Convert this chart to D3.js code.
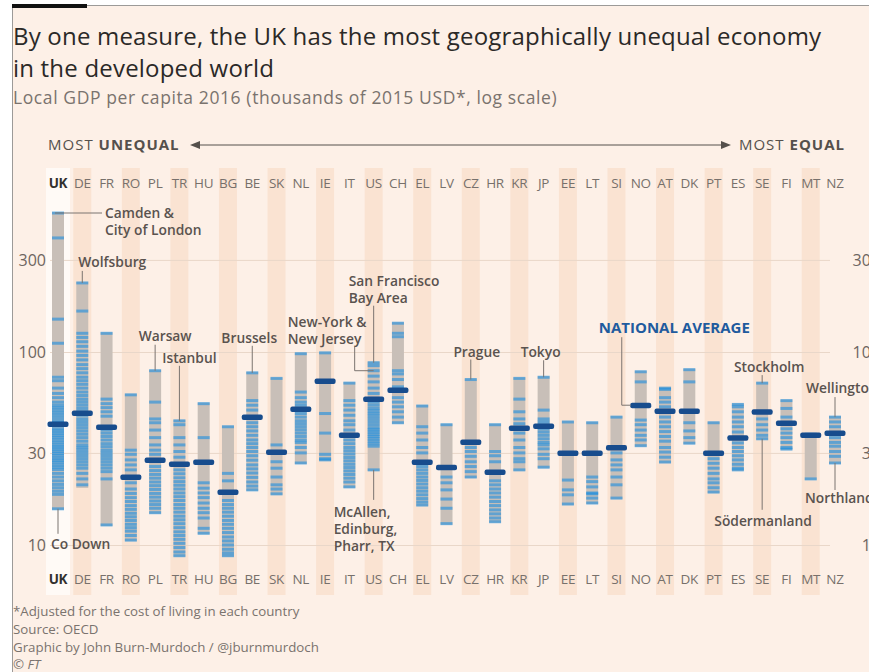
<!DOCTYPE html>
<html>
<head>
<meta charset="utf-8">
<script src="https://cdn.jsdelivr.net/npm/d3@7"></script>
<style>
  body { margin: 0; background: #fff; }
  svg { display: block; font-family: "Open Sans", "Noto Sans", sans-serif; }
</style>
</head>
<body>
<script>
const countries = ['UK', 'DE', 'FR', 'RO', 'PL', 'TR', 'HU', 'BG', 'BE', 'SK', 'NL', 'IE', 'IT', 'US', 'CH', 'EL', 'LV',
  'CZ', 'HR', 'KR', 'JP', 'EE', 'LT', 'SI', 'NO', 'AT', 'DK', 'PT', 'ES', 'SE', 'FI', 'MT', 'NZ'];

// highest and lowest region, and national average (thousands of 2015 USD)
const maxGdp = [525, 228, 125, 60, 80, 44, 54, 41, 78, 73, 98, 99, 69, 88, 141, 52.5, 42, 72, 42, 73, 74, 43.4, 43, 46,
  79, 65, 81, 43, 53.5, 69, 56, 37.5, 46];
const minGdp = [15.4, 20, 12.7, 10.6, 14.7, 8.8, 11.5, 8.8, 19.3, 18.4, 26.6, 27.6, 20, 24.5, 43, 16.1, 12.9, 22.5, 13.2,
  24.5, 25.3, 16.3, 16.5, 17.5, 32.7, 26.9, 33.7, 18.8, 24.5, 35.5, 31.4, 22, 26.6];
const avgGdp = [42.4, 48.3, 40.9, 22.5, 27.6, 26.3, 26.9, 18.8, 46, 30.3, 50.7, 70.7, 37.2, 57, 63.6, 26.9, 25.3, 34.2,
  23.9, 40.4, 41.3, 30, 30, 32, 53, 49.5, 49.5, 30, 36, 49, 42.9, 37.2, 38];

// one value per region, per country
const regions = [
  [525, 390, 148, 111, 74, 71, 65, 61, 58, 55, 53, 51.5, 50, 48.5, 47, 45.5, 44, 43, 41.5, 40, 39, 38, 37, 36, 35, 34, 33,
    32.2, 31.4, 30.6, 29.8, 29, 28.2, 27.5, 26.8, 26, 25.3, 24.6, 23.5, 22.5, 21.5, 20.6, 19.8, 19, 18.3, 15.4],
  [228, 163, 125, 119, 113, 107, 101, 96, 91, 86, 82, 78, 74, 71, 68, 65, 62, 59.5, 57, 55, 53, 51, 49, 47, 45, 43.5, 42,
    40.5, 39, 37.5, 36, 34.5, 33, 32, 31, 30, 29, 28, 27, 26, 25, 23.5, 22, 20.5],
  [125, 57, 54, 51.5, 49, 46.5, 39.5, 38, 36.5, 35, 33.5, 32.3, 31, 30, 29, 28, 27, 26, 25, 24, 22, 12.7],
  [60, 31, 29.5, 27.6, 26, 24.5, 21, 19.5, 18.5, 17.6, 16.8, 16, 15.3, 14.6, 14, 13.4, 12.8, 12.3, 11.8, 11.2, 10.6],
  [80, 55, 45, 43, 39.4, 36, 33, 31, 29.5, 25.5, 24.3, 23.2, 22.2, 21.2, 20.3, 19.4, 18.5, 17.7, 16.9, 16.2, 15.5, 14.7],
  [44, 42, 36, 33, 30.5, 28.5, 24.5, 23.4, 22.3, 21.3, 20.4, 19.5, 18.6, 17.8, 17, 16.2, 15.5, 14.8, 14.1, 13.5, 12.9,
    12.3, 11.7, 11.2, 10.7, 10.2, 9.7, 9.2, 8.8],
  [54, 36, 21, 19.7, 18.6, 17.6, 16.5, 15.5, 14.7, 13.8, 12.2, 11.5],
  [41, 23.5, 21.5, 17, 16.2, 15.5, 14.8, 14.1, 13.4, 12.8, 12.2, 11.6, 11, 10.5, 10, 9.5, 9.1, 8.8],
  [78, 56, 53, 50, 43, 41, 39, 37, 35, 33.5, 32, 30.5, 29, 27.5, 26, 24.8, 23.6, 22.4, 21.2, 20.2, 19.3],
  [73, 33, 27, 25, 22.5, 20.5, 19.5, 18.4],
  [98, 62, 58, 55, 53, 48, 46, 44, 42.5, 41, 39.5, 38, 36.5, 35, 34, 32, 30, 26.6],
  [99, 48, 38, 29.5, 28, 27.6],
  [69, 56, 53, 50, 47, 44, 42, 39.4, 35, 33.5, 32, 30.8, 29.6, 28.4, 27.3, 26.2, 25.2, 24.2, 23.2, 22.2, 21.2, 20],
  [88, 85, 80, 75, 70, 65, 61, 55, 53, 51, 49.5, 48, 46.5, 45, 43.5, 42, 40.5, 39.5, 38.5, 37.5, 36.5, 35.5, 34.5, 33.5,
    32.5, 24.5],
  [141, 125, 120, 80, 77, 72, 66, 58, 55, 52, 49, 46, 43],
  [52.5, 41, 38, 35, 32, 30, 25.5, 24.5, 23.5, 22.5, 21.6, 20.7, 19.8, 19, 18.2, 17.4, 16.7, 16.1],
  [42, 22.5, 21, 19.3, 17.3, 15.5, 12.9],
  [72, 32, 30.5, 28.8, 27, 25.5, 24, 22.5],
  [42, 30.5, 29, 27, 21.5, 20.5, 19.5, 18.6, 17.7, 16.8, 16, 15.2, 14.5, 13.8, 13.2],
  [73, 57, 49, 45, 42.5, 38, 35, 32, 30, 28, 27, 24.5],
  [74, 50, 45, 43.5, 42, 40, 38.5, 37, 35.5, 34, 33, 31.5, 29.5, 28, 25.3],
  [43.4, 21.7, 19.3, 18.2, 16.3],
  [43, 22.5, 21.3, 20, 18.6, 18.4, 17.5, 16.5],
  [46, 30, 27.6, 26, 24.5, 22.5, 20.5, 17.5],
  [79, 70, 44.4, 42, 39.4, 37, 35, 32.7],
  [65, 64, 58, 55, 52, 46, 43.4, 41, 38.7, 36.5, 34.5, 32, 30.3, 28.5, 26.9],
  [81, 70, 43, 39, 36, 33.7],
  [43, 28, 26.5, 25, 23.5, 22, 21, 19.8, 18.8],
  [53.5, 52, 49, 46, 43.4, 41, 38.5, 33.8, 32, 30.5, 29, 27.6, 26.2, 25, 24.5],
  [69, 45, 42, 39.4, 37, 35.5],
  [56, 51, 46, 40, 38, 36, 34, 32, 31.4],
  [37.5, 22],
  [46, 43.4, 41, 36, 34, 32.5, 30.5, 28.8, 26.6]
];

const yTicks = [10, 30, 100, 300];

// labelled regions: country, value, text
const notes = [
  { c: 'UK', v: 525, text: ['Camden &', 'City of London'], path: [[-3, 0], [44, 0]], dx: 47, dy: 5, anchor: 'start' },
  { c: 'DE', v: 228, text: ['Wolfsburg'], path: [[0, 0], [0, -12]], dx: -4, dy: -16, anchor: 'start' },
  { c: 'PL', v: 80, text: ['Warsaw'], path: [[0, 0], [0, -26]], dx: 10, dy: -30, anchor: 'middle' },
  { c: 'TR', v: 44, text: ['Istanbul'], path: [[0, 0], [0, -55]], dx: 10, dy: -58, anchor: 'middle' },
  { c: 'BE', v: 78, text: ['Brussels'], path: [[0, 0], [0, -27]], dx: -3, dy: -30, anchor: 'middle' },
  { c: 'US', v: 80, text: ['New-York &', 'New Jersey'], path: [[0, 0], [-19, 0], [-19, -24]], dx: -86, dy: -44, anchor: 'start' },
  { c: 'US', v: 88, text: ['San Francisco', 'Bay Area'], path: [[0, 0], [0, -57]], dx: -25, dy: -77, anchor: 'start' },
  { c: 'US', v: 24.5, text: ['McAllen,', 'Edinburg,', 'Pharr, TX'], path: [[0, 0], [0, 30]], dx: -40, dy: 47, anchor: 'start' },
  { c: 'CZ', v: 72, text: ['Prague'], path: [[0, 0], [0, -20]], dx: 6, dy: -23, anchor: 'middle' },
  { c: 'JP', v: 74, text: ['Tokyo'], path: [[0, 0], [0, -17]], dx: -3, dy: -20, anchor: 'middle' },
  { c: 'SE', v: 69, text: ['Stockholm'], path: [[0, 0], [0, -8]], dx: 7, dy: -11, anchor: 'middle' },
  { c: 'NZ', v: 46, text: ['Wellington'], path: [[0, 0], [0, -20]], dx: -29, dy: -24, anchor: 'start' },
  { c: 'NZ', v: 26.6, text: ['Northland'], path: [[0, 0], [0, 27]], dx: -30, dy: 40, anchor: 'start' },
  { c: 'SE', v: 35.5, text: ['Södermanland'], path: [[0, 0], [0, 71]], dx: 1, dy: 87, anchor: 'middle' },
  { c: 'UK', v: 15.4, text: ['Co Down'], path: [[0, 0], [0, 25]], dx: -7, dy: 40, anchor: 'start' }
];

const w = 869;
const h = 672;

const x = d3.scalePoint().domain(countries).range([58, 835]);
const y = d3.scaleLog().domain([10, 100]).range([545, 352]);

const svg = d3.select('body').append('svg').attr('width', w).attr('height', h);

// panel
svg.append('rect').attr('x', 12).attr('y', 5).attr('width', w - 12).attr('height', h - 5).attr('fill', '#fdf0e7');
svg.append('line').attr('x1', 12).attr('x2', w).attr('y1', 5.5).attr('y2', 5.5).attr('stroke', '#9c9a98');
svg.append('line').attr('x1', 12.5).attr('x2', 12.5).attr('y1', 5).attr('y2', h).attr('stroke', '#9c9a98');
svg.append('rect').attr('x', 12).attr('y', 4).attr('width', 75).attr('height', 4).attr('fill', '#111');

// titles
svg.append('text').attr('x', 13).attr('y', 45).attr('font-size', 24).attr('letter-spacing', 0.2).attr('fill', '#2b2927')
  .text('By one measure, the UK has the most geographically unequal economy');
svg.append('text').attr('x', 13).attr('y', 77).attr('font-size', 24).attr('letter-spacing', 0.2).attr('fill', '#2b2927')
  .text('in the developed world');
svg.append('text').attr('x', 13).attr('y', 104).attr('font-size', 17.5).attr('letter-spacing', 0.6).attr('fill', '#7a736e')
  .text('Local GDP per capita 2016 (thousands of 2015 USD*, log scale)');

// direction arrow
const head = svg.append('g').attr('fill', '#55504c').attr('font-size', 15).attr('letter-spacing', 1);
const lt = head.append('text').attr('x', 48).attr('y', 150);
lt.append('tspan').text('MOST ');
lt.append('tspan').attr('font-weight', 'bold').text('UNEQUAL');
const rt = head.append('text').attr('x', 845).attr('y', 150).attr('text-anchor', 'end');
rt.append('tspan').text('MOST ');
rt.append('tspan').attr('font-weight', 'bold').text('EQUAL');
head.append('line').attr('x1', 194).attr('x2', 726).attr('y1', 145).attr('y2', 145).attr('stroke', '#55504c');
head.append('path').attr('d', 'M190,145 L200,141 L200,149 Z');
head.append('path').attr('d', 'M731,145 L721,141 L721,149 Z');

// column stripes
svg.selectAll('rect.stripe').data(countries).enter().append('rect')
  .attr('class', 'stripe')
  .attr('x', (d, i) => x(d) - (i == 0 ? 12 : 9))
  .attr('width', (d, i) => i == 0 ? 24 : 18)
  .attr('y', 168).attr('height', 427)
  .attr('fill', (d, i) => i == 0 ? '#fffaf6' : (i % 2 ? '#fae3d2' : 'none'));

// grid + tick labels
const grid = svg.append('g').attr('transform', 'translate(50,0)')
  .call(d3.axisLeft(y).tickValues(yTicks).tickSize(-780).tickFormat(''));
grid.select('.domain').remove();
grid.selectAll('line').attr('stroke', '#e9d7c9');

const yLeft = svg.append('g').attr('transform', 'translate(46,0)')
  .call(d3.axisLeft(y).tickValues(yTicks).tickSize(0).tickPadding(0).tickFormat(d3.format('d')));
const yRight = svg.append('g').attr('transform', 'translate(880,0)')
  .call(d3.axisLeft(y).tickValues(yTicks).tickSize(0).tickPadding(0).tickFormat(d3.format('d')));
[yLeft, yRight].forEach((g) => {
  g.select('.domain').remove();
  g.selectAll('text').attr('font-size', 16).attr('fill', '#6d6560').attr('font-family', '"Open Sans", sans-serif');
});

// country labels top and bottom
[188, 584].forEach((ly) => {
  svg.append('g').selectAll('text').data(countries).enter().append('text')
    .attr('x', (d) => x(d)).attr('y', ly).attr('text-anchor', 'middle')
    .attr('font-size', 13.5)
    .attr('font-weight', (d, i) => i == 0 ? 'bold' : 'normal')
    .attr('fill', (d, i) => i == 0 ? '#33302e' : '#77706b')
    .attr('letter-spacing', -0.3)
    .text((d) => d);
});

// range bars
svg.append('g').selectAll('rect').data(countries).enter().append('rect')
  .attr('x', (d) => x(d) - 6).attr('width', 12)
  .attr('y', (d, i) => y(maxGdp[i]) - 1)
  .attr('height', (d, i) => y(minGdp[i]) - y(maxGdp[i]) + 2)
  .attr('fill', '#c8bfb8');

// region lines
const cols = svg.append('g').selectAll('g').data(countries).enter().append('g');
cols.selectAll('rect').data((d, i) => regions[i].map((v) => ({ c: d, v: v }))).enter().append('rect')
  .attr('x', (d) => x(d.c) - 6).attr('width', 12)
  .attr('y', (d) => y(d.v) - 1.5).attr('height', 3)
  .attr('fill', '#1a8de0').attr('opacity', 0.6);

// national averages
svg.append('g').selectAll('rect').data(countries).enter().append('rect')
  .attr('x', (d) => x(d) - 10.5).attr('width', 21)
  .attr('y', (d, i) => y(avgGdp[i]) - 2.5).attr('height', 5.5).attr('rx', 2)
  .attr('fill', '#174c8d');

// annotations
const ann = svg.append('g');
notes.forEach((n) => {
  const ax = x(n.c);
  const ay = y(n.v);
  ann.append('path')
    .attr('d', 'M' + n.path.map((p) => (ax + p[0]) + ',' + (ay + p[1])).join('L'))
    .attr('fill', 'none').attr('stroke', '#7b7470').attr('stroke-width', 1);
  const t = ann.append('text').attr('x', ax + n.dx).attr('y', ay + n.dy)
    .attr('text-anchor', n.anchor).attr('font-size', 13.8).attr('font-weight', 600).attr('fill', '#5a534f');
  n.text.forEach((line, k) => {
    t.append('tspan').attr('x', ax + n.dx).attr('dy', k == 0 ? 0 : 17).text(line);
  });
});

const noIdx = countries.indexOf('NO');
ann.append('path')
  .attr('d', 'M' + (x('NO') - 10) + ',' + y(avgGdp[noIdx]) + 'L' + (x('NO') - 19) + ',' + y(avgGdp[noIdx]) +
    'L' + (x('NO') - 19) + ',' + (y(avgGdp[noIdx]) - 68))
  .attr('fill', 'none').attr('stroke', '#7b7470');
ann.append('text').attr('x', x('NO') - 42).attr('y', y(avgGdp[noIdx]) - 72)
  .attr('font-size', 15).attr('font-weight', 'bold').attr('fill', '#1f5b9e').text('NATIONAL AVERAGE');

// footer
const foot = [
  '*Adjusted for the cost of living in each country',
  'Source: OECD',
  'Graphic by John Burn-Murdoch / @jburnmurdoch'
];
svg.append('g').selectAll('text').data(foot).enter().append('text')
  .attr('x', 13).attr('y', (d, i) => 616 + i * 18)
  .attr('font-size', 13.3).attr('fill', '#7a736e').text((d) => d);
svg.append('text').attr('x', 13).attr('y', 669).attr('font-size', 13.3).attr('font-style', 'italic')
  .attr('fill', '#7a736e').text('© FT');
</script>
</body>
</html>
